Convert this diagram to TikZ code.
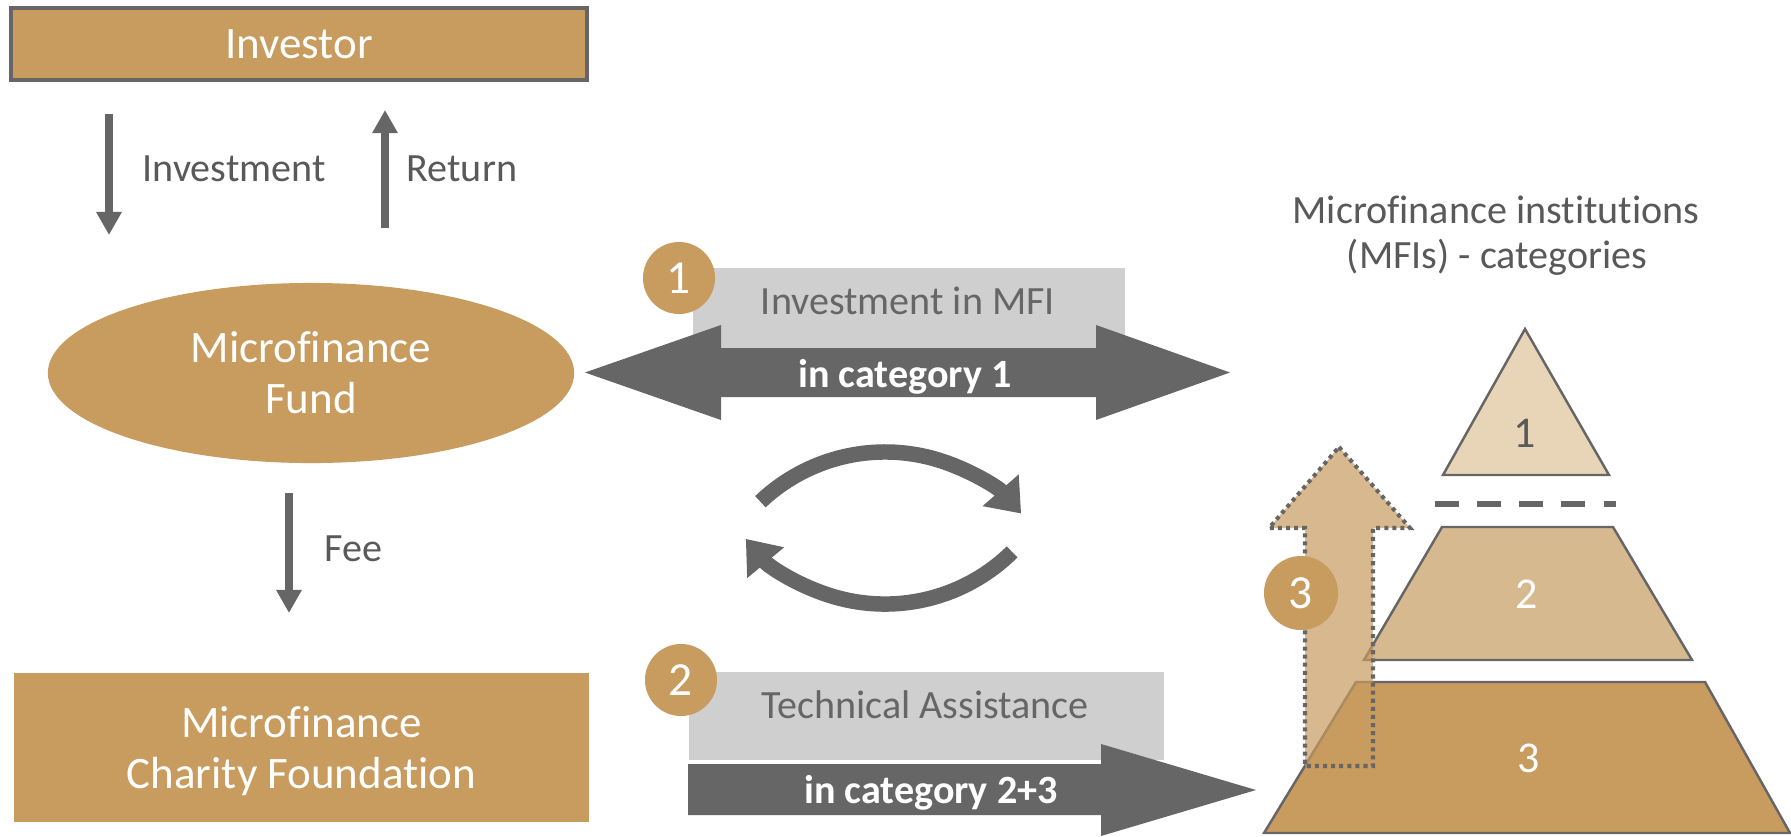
\documentclass[tikz,border=0pt]{standalone}
\usepackage{fontspec}
\setmainfont{Carlito}[Ligatures=NoCommon]
\usetikzlibrary{arrows.meta,shapes.geometric}
\definecolor{tan}{HTML}{C89B5F}
\definecolor{tanmid}{HTML}{D6B98E}
\definecolor{tanlight}{HTML}{E8D5B8}
\definecolor{dgray}{HTML}{666666}
\definecolor{lgray}{HTML}{CFCFCF}
\definecolor{txtgray}{HTML}{595959}
\newcommand{\fbig}{\fontsize{12.8}{14.5}\selectfont}
\newcommand{\fsmall}{\fontsize{11.4}{12.8}\selectfont}
\newcommand{\fnum}{\fontsize{13.5}{15}\selectfont}
\newcommand{\fpyr}{\fontsize{12.5}{14}\selectfont}
\tikzset{
  tanbox/.style={rectangle, fill=tan, text=white, font=\fbig, align=center, inner sep=0pt},
  tanellipse/.style={ellipse, fill=tan, text=white, font=\fbig, align=center, inner sep=0pt},
  numcircle/.style={circle, fill=tan, text=white, font=\fnum, minimum size=0.72cm, inner sep=0pt},
  graybox/.style={rectangle, fill=lgray, inner sep=0pt},
  sublabel/.style={text=txtgray, font=\fsmall, inner sep=0pt},
  boxtext/.style={text=dgray, font=\fsmall, inner sep=0pt},
  bartext/.style={text=white, font=\fsmall\bfseries, inner sep=0pt},
  flowarrow/.style={draw=dgray, line width=2.2pt, -{Triangle[length=0.23cm,width=0.24cm]}},
  cyclearrow/.style={draw=dgray, line width=4.4pt, -{Triangle[length=0.31cm,width=0.46cm]}},
  bigarrow/.style={fill=dgray},
  pyr/.style={draw=dgray, line width=0.7pt, line join=miter},
  pyrnum/.style={font=\fpyr, inner sep=0pt},
}
\begin{document}
\begin{tikzpicture}[x=0.01cm,y=-0.01cm]
\useasboundingbox (0,0) rectangle (1791,836);

% ---- left column ----
\node[tanbox, draw=dgray, line width=1.3pt, minimum width=5.76cm, minimum height=0.72cm] (investor) at (299,44) {Investor};
\node[tanellipse, minimum width=5.26cm, minimum height=1.80cm] (fund) at (311,373) {Microfinance\\Fund};
\node[tanbox, minimum width=5.75cm, minimum height=1.49cm, text depth=0pt] (charity) at (301.5,747.5) {Microfinance\\Charity Foundation};

\coordinate (invA) at (109,114);
\coordinate (invB) at (109,235);
\coordinate (retA) at (385,228);
\coordinate (retB) at (385,110);
\coordinate (feeA) at (289,493);
\coordinate (feeB) at (289,613);
\draw[flowarrow] (invA) -- (invB);
\draw[flowarrow] (retA) -- (retB);
\draw[flowarrow] (feeA) -- (feeB);
\node[sublabel, anchor=base west] (lblinv) at (142,181) {Investment};
\node[sublabel, anchor=base west] (lblret) at (406,181) {Return};
\node[sublabel, anchor=base west] (lblfee) at (324,561) {Fee};

% ---- middle: investment in MFI ----
\node[graybox, minimum width=4.32cm, minimum height=0.80cm] (box1) at (909,308) {};
\fill[bigarrow] (585,372.5) -- (721,325) -- (721,348) -- (1096,348) -- (1096,325) -- (1230,372.5)
  -- (1096,420) -- (1096,397) -- (721,397) -- (721,420) -- cycle;
\node[numcircle] (c1) at (679,278) {1};
\node[boxtext, anchor=base] (t1) at (908,314) {Investment in MFI};
\node[bartext, anchor=base] (b1) at (905,387) {in category 1};

% ---- cycle arrows ----
\draw[cyclearrow] (760.4,501.7) arc[start angle=133.5, end angle=41.3, radius=1.81cm];
\draw[cyclearrow] (1012.1,551.9) arc[start angle=-45.4, end angle=-140.2, radius=1.81cm];

% ---- middle: technical assistance ----
\node[graybox, minimum width=4.75cm, minimum height=0.88cm] (box2) at (926.5,716) {};
\fill[bigarrow] (688,764) -- (1101,764) -- (1101,744) -- (1256,790) -- (1101,836) -- (1101,815) -- (688,815) -- cycle;
\node[numcircle] (c2) at (681,680) {2};
\node[boxtext, anchor=base] (t2) at (925,718) {Technical Assistance};
\node[bartext, anchor=base] (b2) at (931,803) {in category 2+3};

% ---- right: pyramid ----
\node[sublabel, anchor=base] (title1) at (1496,223) {Microfinance institutions};
\node[sublabel, anchor=base] (title2) at (1497,268) {(MFIs) - categories};

\draw[pyr, fill=tanlight] (1525,329) -- (1609,475) -- (1443,475) -- cycle;
\draw[draw=dgray, line width=1.7pt, dash pattern=on 0.235cm off 0.186cm] (1435,504) -- (1616,504);
\draw[pyr, fill=tanmid] (1442,527) -- (1613,527) -- (1692,660) -- (1364,660) -- cycle;
\draw[pyr, fill=tan] (1356,682) -- (1705,682) -- (1790,833) -- (1264,833) -- cycle;
\node[pyrnum, text=txtgray, anchor=base] (p1) at (1525,447) {1};
\node[pyrnum, text=white, anchor=base] (p2) at (1527,608) {2};
\node[pyrnum, text=white, anchor=base] (p3) at (1529,772) {3};

\fill[tan, fill opacity=0.7] (1339,447) -- (1410,528) -- (1373,528) -- (1373,766) -- (1305,766) -- (1305,528) -- (1269,528) -- cycle;
\draw[dgray, line width=1.15pt, dash pattern=on 1.15pt off 1.15pt] (1339,447) -- (1410,528) -- (1373,528) -- (1373,766) -- (1305,766) -- (1305,528) -- (1269,528) -- cycle;
\node[numcircle, minimum size=0.74cm] (c3) at (1301,593) {3};
\end{tikzpicture}
\end{document}
